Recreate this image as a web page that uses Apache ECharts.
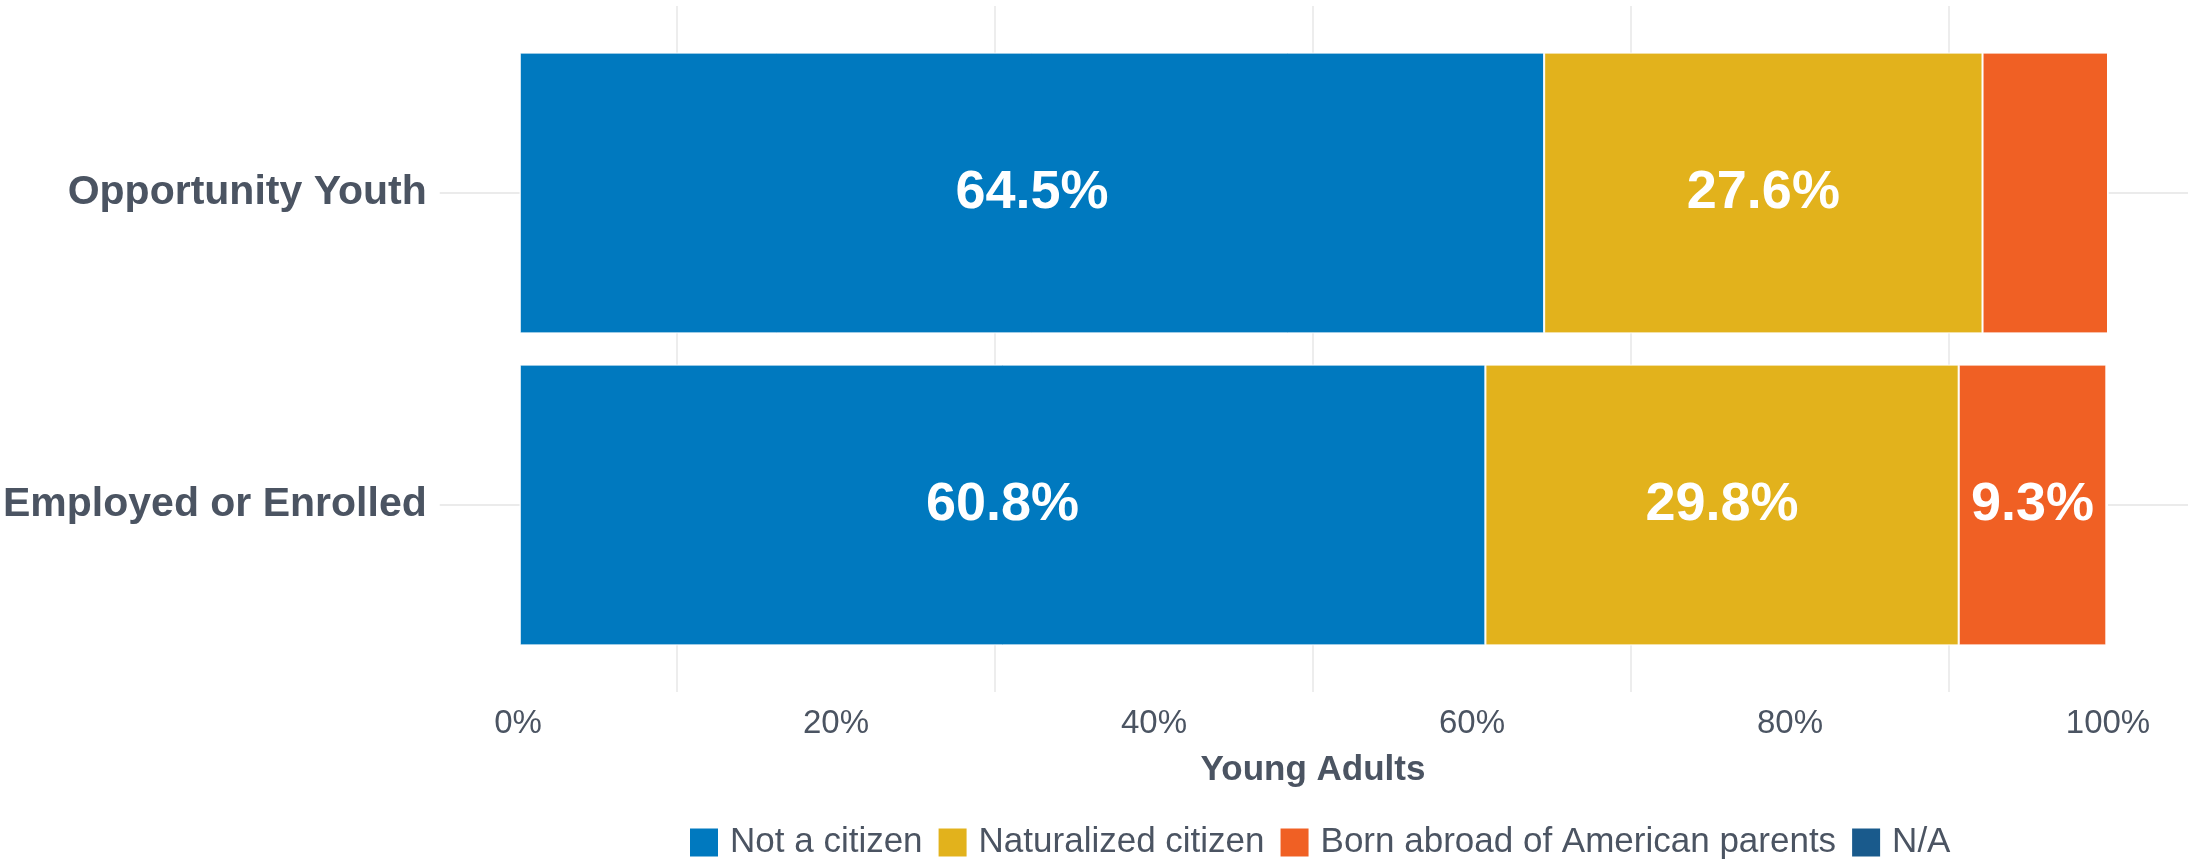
<!DOCTYPE html>
<html>
<head>
<meta charset="utf-8">
<script src="https://cdn.jsdelivr.net/npm/echarts@6/dist/echarts.min.js"></script>
<style>
  html, body { margin: 0; padding: 0; background: #fff; }
  #chart { width: 2188px; height: 860px; }
</style>
</head>
<body>
<div id="chart"></div>
<script>
const categories = ['Opportunity Youth', 'Employed or Enrolled'];
const seriesNames = ['Not a citizen', 'Naturalized citizen', 'Born abroad of American parents', 'N/A'];
const notCitizen = [64.5, 60.8];
const naturalized = [27.6, 29.8];
const bornAbroad = [7.9, 9.3];
const notAvailable = [0, 0];
const xTicks = [0, 20, 40, 60, 80, 100];

const colors = ['#0079bf', '#e2b21c', '#f06024', '#195a8c'];
const textColor = '#4b5462';
const font = 'Liberation Sans, Arial, sans-serif';

const makeSeries = (name, values, color) => {
  return {
    name: name,
    type: 'bar',
    stack: 'total',
    xAxisIndex: 1,
    yAxisIndex: 1,
    barCategoryGap: '10%',
    itemStyle: { color: color, borderColor: '#ffffff', borderWidth: 1 },
    label: {
      show: true,
      position: 'inside',
      color: '#ffffff',
      fontSize: 54,
      fontWeight: 'bold',
      fontFamily: font,
      // small slices get no label, as in the original
      formatter: (p) => p.value >= 8 ? p.value.toFixed(1) + '%' : ''
    },
    data: values
  };
};

const initChart = () => {
  const chart = echarts.init(document.getElementById('chart'));
  const tickStyle = { show: true, alignWithLabel: true, length: 80, lineStyle: { color: '#ebebeb', width: 2 } };

  chart.setOption({
    animation: false,
    grid: [
      { left: 518, right: 80, top: 6, bottom: 168 },
      { left: 518, right: 80, top: 37, bottom: 199 }
    ],
    xAxis: [{
      gridIndex: 0,
      type: 'value',
      min: xTicks[0],
      max: xTicks[xTicks.length - 1],
      interval: xTicks[1] - xTicks[0],
      axisLine: { show: false },
      axisTick: { show: false },
      splitLine: { show: false },
      minorTick: { show: false, splitNumber: 2 },
      minorSplitLine: { show: true, lineStyle: { color: '#ededed', width: 2 } },
      axisLabel: { formatter: '{value}%', fontSize: 33, color: textColor, fontFamily: font, margin: 15 },
      name: 'Young Adults',
      nameLocation: 'middle',
      nameGap: 61,
      nameTextStyle: { fontSize: 35, fontWeight: 'bold', color: textColor, fontFamily: font }
    }, {
      gridIndex: 1,
      type: 'value',
      min: 0,
      max: 100,
      show: false
    }],
    yAxis: [{
      gridIndex: 0,
      type: 'value',
      show: false
    }, {
      gridIndex: 1,
      type: 'category',
      data: categories,
      inverse: true,
      axisLine: { show: false },
      axisTick: tickStyle,
      axisLabel: { fontSize: 41, fontWeight: 'bold', color: textColor, fontFamily: font, margin: 93 }
    }, {
      gridIndex: 1,
      type: 'category',
      data: categories,
      inverse: true,
      position: 'right',
      axisLine: { show: false },
      axisTick: tickStyle,
      axisLabel: { show: false }
    }],
    legend: {
      data: seriesNames,
      left: 683,
      top: 820,
      icon: 'rect',
      itemWidth: 30,
      itemHeight: 30,
      itemGap: 14,
      textStyle: { fontSize: 35, color: textColor, fontFamily: font, padding: [0, 0, 0, 6] }
    },
    series: [
      makeSeries(seriesNames[0], notCitizen, colors[0]),
      makeSeries(seriesNames[1], naturalized, colors[1]),
      makeSeries(seriesNames[2], bornAbroad, colors[2]),
      makeSeries(seriesNames[3], notAvailable, colors[3])
    ]
  });
};

window.addEventListener('load', initChart);
</script>
</body>
</html>
